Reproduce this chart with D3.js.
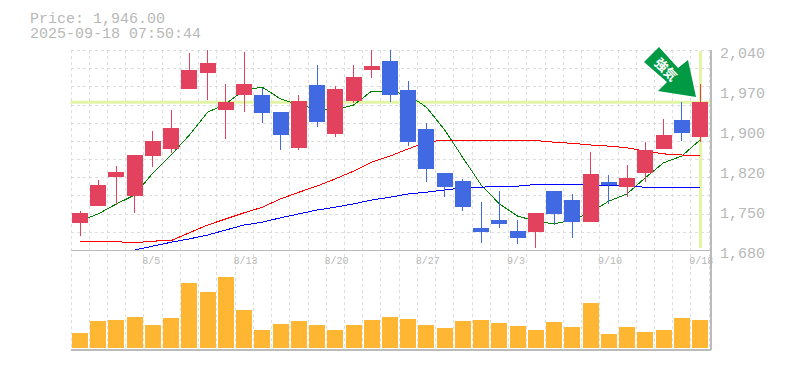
<!DOCTYPE html>
<html lang="ja">
<head>
<meta charset="UTF-8">
<title>Price chart</title>
<style>
  html, body { margin: 0; background: #fff; }
  svg { display: block; }
  .grid line { stroke: #ddd; stroke-dasharray: 3 3; shape-rendering: crispEdges; }
  .mono { font-family: "Liberation Mono", monospace; fill: #b8b8b8; }
  .ma { fill: none; stroke-width: 1; shape-rendering: crispEdges; }
</style>
</head>
<body>
<svg width="785" height="370"></svg>
<script src="https://d3js.org/d3.v7.min.js"></script>
<script>
const dates = ["7/30","7/31","8/1","8/4","8/5","8/6","8/7","8/8","8/12","8/13","8/14","8/15","8/18","8/19","8/20","8/21","8/22","8/25","8/26","8/27","8/28","8/29","9/1","9/2","9/3","9/4","9/5","9/8","9/9","9/10","9/11","9/12","9/16","9/17","9/18"];
const dateTicks = ["8/5","8/13","8/20","8/27","9/3","9/10","9/18"];
const priceTicks = [1680,1750,1820,1900,1970,2040];

const opens  = [1729,1759,1811,1778,1849,1862,1970,1999,1932,1959,1959,1928,1864,1977,1889,1948,2004,2020,1968,1898,1819,1804,1720,1734,1714,1712,1786,1770,1730,1802,1793,1819,1862,1914,1883];
const highs  = [1750,1806,1831,1851,1894,1932,2035,2040,1979,2036,1972,1928,1959,2013,1975,2013,2040,2040,1984,1909,1819,1808,1766,1786,1734,1747,1786,1781,1856,1815,1833,1874,1916,1946,1979];
const lows   = [1705,1759,1761,1747,1829,1855,1970,1950,1880,1928,1909,1860,1860,1901,1883,1945,1990,1946,1867,1802,1775,1750,1693,1720,1691,1684,1725,1702,1730,1763,1775,1802,1862,1876,1874];
const closes = [1747,1797,1820,1851,1876,1900,2004,2017,1946,1979,1927,1887,1948,1910,1970,1991,2011,1959,1874,1826,1793,1757,1712,1727,1702,1747,1745,1730,1817,1797,1810,1860,1887,1891,1946];
const volumes = [15,27,28,31,23,30,65,56,71,38,18,24,27,23,18,23,28,31,29,23,20,27,28,25,22,18,26,21,45,14,21,16,18,30,28];

const maShort = [1732,1745,1763,1779,1819,1851,1887,1928,1943,1968,1973,1952,1941,1934,1932,1941,1966,1966,1959,1937,1896,1846,1797,1763,1741,1732,1727,1734,1748,1768,1781,1810,1837,1849,1878];
const maMid   = [1695,1695,1695,1693,1696,1697,1711,1725,1736,1747,1757,1772,1784,1795,1808,1822,1838,1849,1862,1874,1878,1878,1878,1878,1878,1877,1874,1872,1869,1867,1864,1858,1853,1851,1851];
const maLong  = [null,null,null,1680,1687,1694,1700,1707,1716,1725,1730,1738,1745,1752,1757,1763,1770,1775,1781,1784,1788,1792,1793,1795,1795,1798,1798,1798,1797,1797,1795,1793,1793,1793,1793];
const lastPrice = 1946;

const svg = d3.select("svg");
const slot = 18.235, bodyW = 16;
const plotL = 70.5, plotR = 710, plotT = 50, plotB = 250, volB = 349;

const x = d3.scalePoint().domain(d3.range(dates.length)).range([80, 700]);
const y = d3.scaleLinear().domain([1680, 2040]).range([plotB, plotT]);
const yVol = d3.scaleLinear().domain([0, 100]).range([348, 248]);

svg.append("text").attr("class", "mono").attr("x", 30).attr("y", 23).attr("font-size", 15).text("Price: " + d3.format(",.2f")(lastPrice));
svg.append("text").attr("class", "mono").attr("x", 30).attr("y", 38).attr("font-size", 15).text("2025-09-18 07:50:44");

// grid
const grid = svg.append("g").attr("class", "grid");
grid.selectAll(".v").data(d3.range(36)).join("line")
    .attr("class", "v")
    .attr("x1", i => Math.round(plotL + i * slot) + 0.5).attr("x2", i => Math.round(plotL + i * slot) + 0.5)
    .attr("y1", plotT).attr("y2", volB);
grid.selectAll(".h").data(d3.range(11)).join("line")
    .attr("class", "h")
    .attr("x1", plotL).attr("x2", plotR)
    .attr("y1", i => Math.round(plotT + i * 200 / 11) + 0.5).attr("y2", i => Math.round(plotT + i * 200 / 11) + 0.5);

// frame
const frame = svg.append("g").attr("stroke", "#bbb").attr("shape-rendering", "crispEdges");
frame.append("line").attr("x1", plotL).attr("x2", plotR).attr("y1", plotB + 0.5).attr("y2", plotB + 0.5);
frame.append("line").attr("x1", plotL).attr("x2", plotR + 1).attr("y1", volB + 0.5).attr("y2", volB + 0.5).attr("stroke-width", 2);
frame.append("line").attr("x1", plotR + 0.5).attr("x2", plotR + 0.5).attr("y1", plotT).attr("y2", volB + 1).attr("stroke-width", 2);

// last price cross
svg.append("line").attr("x1", plotL).attr("x2", plotR).attr("y1", y(lastPrice)).attr("y2", y(lastPrice))
    .attr("stroke", "#e2f5a6").attr("stroke-width", 3);
svg.append("line").attr("x1", x(34) + 0.5).attr("x2", x(34) + 0.5).attr("y1", plotT + 1).attr("y2", plotB - 2)
    .attr("stroke", "#e2f5a6").attr("stroke-width", 3);

// axis labels
svg.append("g").selectAll("text").data(dateTicks).join("text")
    .attr("class", "mono").attr("font-size", 10)
    .attr("x", d => x(dates.indexOf(d)) - 10.7).attr("y", 264).text(d => d);
const yLabel = d3.scalePoint().domain(priceTicks).range([258, 58]);
svg.append("g").selectAll("text").data(priceTicks).join("text")
    .attr("class", "mono").attr("font-size", 15).attr("x", 720)
    .attr("y", d => yLabel(d)).text(d => d3.format(",")(d));

// moving averages under the candles
const line = d3.line().defined(d => d != null).x((d, i) => x(i)).y(d => y(d));
[[maShort, "#008000"], [maMid, "#f00"], [maLong, "#00f"]].forEach(([vals, col]) => {
    svg.append("path").attr("class", "ma").attr("stroke", col).attr("d", line(vals));
});

// candles
const candles = svg.append("g").selectAll("g").data(d3.range(dates.length)).join("g")
    .attr("fill", i => closes[i] >= opens[i] ? "#e2425e" : "#4169e1")
    .attr("stroke", "none").attr("shape-rendering", "crispEdges");
candles.append("rect").attr("x", i => x(i) - 0.5).attr("width", 1)
    .attr("y", i => y(highs[i])).attr("height", i => y(lows[i]) - y(highs[i]));
candles.append("rect").attr("x", i => x(i) - bodyW / 2).attr("width", bodyW)
    .attr("y", i => y(Math.max(opens[i], closes[i])))
    .attr("height", i => Math.abs(y(opens[i]) - y(closes[i])));

// volume
svg.append("g").selectAll("rect").data(volumes).join("rect")
    .attr("x", (d, i) => x(i) - bodyW / 2).attr("width", bodyW)
    .attr("y", d => yVol(d)).attr("height", d => yVol(0) - yVol(d))
    .attr("fill", "#ffb733").attr("shape-rendering", "crispEdges");

// arrow marker
const arrow = svg.append("g");
arrow.append("path").attr("fill", "#009944")
    .attr("d", "M644,62L659,47L678,68L688,60L696,97L658,91L667,82Z");
arrow.append("text").attr("transform", "translate(666.5,69) rotate(45)")
    .attr("text-anchor", "middle").attr("dominant-baseline", "central")
    .attr("font-family", "Noto Sans CJK JP").attr("font-weight", 700).attr("font-size", 13).attr("fill", "#fff")
    .text("強気");
</script>
</body>
</html>
